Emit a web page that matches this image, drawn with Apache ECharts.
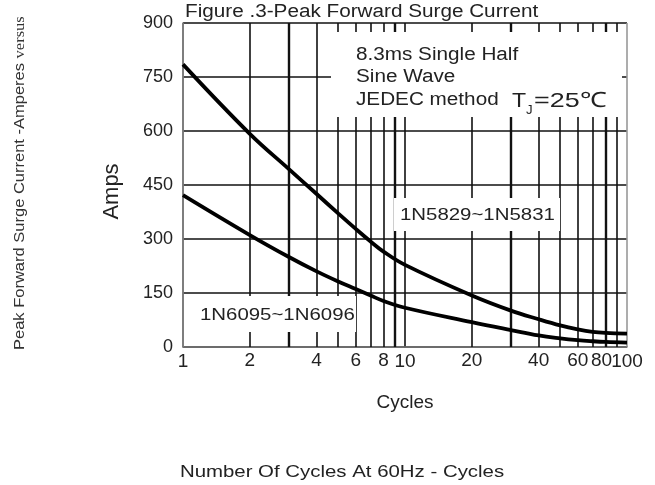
<!DOCTYPE html>
<html>
<head>
<meta charset="utf-8">
<script src="https://cdn.jsdelivr.net/npm/echarts@6/dist/echarts.min.js"></script>
<style>
html,body{margin:0;padding:0;background:#fff;}
#chart{width:655px;height:485px;}
</style>
</head>
<body>
<div id="chart"></div>
<script>
// ---- data ----
const cycles = [1, 2, 3, 4, 5, 6, 7, 8, 10, 20, 30, 40, 50, 60, 70, 80, 100];
const surge1N5829 = [785, 592, 494, 425, 371, 328, 293, 265, 228, 143, 101, 77, 60, 49, 42, 39, 37];
const surge1N6095 = [422, 311, 250, 210, 182, 161, 143, 128, 109, 69, 47, 32, 24, 19, 16, 14, 12];
const gridCycles = [2, 3, 4, 5, 6, 7, 8, 9, 20, 30, 40, 50, 60, 70, 80, 90];
const labeledCycles = [2, 4, 6, 8, 20, 40, 60, 80];
const heavyCycles = [3, 9, 30, 80];
const yMin = 0, yMax = 900, yStep = 150;
const xMin = 1, xMax = 100;

const FONT = '"Liberation Sans", Arial, sans-serif';
const chart = echarts.init(document.getElementById('chart'));

const gridMarks = gridCycles.map(c => ({
  xAxis: c,
  lineStyle: { width: heavyCycles.includes(c) ? 2.4 : 1.6, color: '#111', type: 'solid' },
  label: labeledCycles.includes(c)
    ? { show: true, position: 'start', distance: 4, formatter: String(c), fontSize: 19, color: '#222', fontFamily: FONT, offset: c === 80 ? [-4, 0] : [0, 0] }
    : { show: false }
}));

function txt(x, y, text, size, extra) {
  return Object.assign({
    type: 'text', z: 10, x: x, y: y, scaleX: 1.17,
    style: { text: text, font: size + 'px ' + FONT, fill: '#222', verticalAlign: 'middle', align: 'left' }
  }, extra || {});
}

chart.setOption({
  animation: false,
  backgroundColor: '#fff',
  grid: { left: 183, right: 28, top: 23, bottom: 138 },
  xAxis: {
    type: 'log', logBase: 10, min: xMin, max: xMax,
    name: 'Cycles', nameLocation: 'middle', nameGap: 46,
    nameTextStyle: { fontSize: 19, color: '#222', fontFamily: FONT },
    axisLine: { show: true, lineStyle: { color: '#777', width: 1.5 } },
    axisTick: { show: false },
    axisLabel: { fontSize: 19, color: '#222', fontFamily: FONT, margin: 5 },
    splitLine: { show: true, lineStyle: { color: ['#777', '#111', '#999'], width: 1.6 } }
  },
  yAxis: {
    type: 'value', min: yMin, max: yMax, interval: yStep,
    name: 'Amps', nameLocation: 'middle', nameGap: 60, nameRotate: 90,
    nameTextStyle: { fontSize: 22, color: '#222', fontFamily: FONT, padding: [0, 13, 0, 0] },
    axisLine: { show: true, lineStyle: { color: '#777', width: 1.5 } },
    axisTick: { show: false },
    axisLabel: { fontSize: 18, color: '#222', fontFamily: FONT, margin: 10 },
    splitLine: { show: true, lineStyle: { color: '#111', width: 1.6 } }
  },
  series: [
    {
      name: '1N5829~1N5831', type: 'line', smooth: 0.4, showSymbol: false,
      z: 5,
      lineStyle: { color: '#000', width: 3.8 },
      data: cycles.map((c, i) => [c, surge1N5829[i]]),
      markLine: {
        silent: true, symbol: ['none', 'none'], animation: false, z: 1,
        label: { show: false },
        data: gridMarks
      }
    },
    {
      name: '1N6095~1N6096', type: 'line', smooth: 0.4, showSymbol: false,
      z: 5,
      lineStyle: { color: '#000', width: 3.8 },
      data: cycles.map((c, i) => [c, surge1N6095[i]])
    }
  ],
  graphic: [
    // white boxes behind the annotations
    { type: 'rect', z: 3, shape: { x: 331, y: 32, width: 291, height: 85 }, style: { fill: '#fff' } },
    { type: 'rect', z: 3, shape: { x: 394, y: 198, width: 166, height: 33 }, style: { fill: '#fff' } },
    { type: 'rect', z: 3, shape: { x: 192, y: 296, width: 164, height: 36 }, style: { fill: '#fff' } },
    txt(185, 12, 'Figure .3-Peak Forward Surge Current', 18, { scaleX: 1.15 }),
    txt(356, 55, '8.3ms Single Half', 18, { scaleX: 1.15 }),
    txt(356, 77.5, 'Sine Wave', 18, { scaleX: 1.15 }),
    txt(356, 100, 'JEDEC method', 18, { scaleX: 1.15 }),
    txt(512, 101, 'T', 21, { scaleX: 1.1 }),
    txt(526, 111, 'J', 12, { scaleX: 1.1 }),
    txt(534, 101, '=25℃', 21, { scaleX: 1.28 }),
    txt(400, 215, '1N5829~1N5831', 17, { scaleX: 1.2 }),
    txt(200, 315, '1N6095~1N6096', 17, { scaleX: 1.2 }),
    txt(342, 472, 'Number Of Cycles At 60Hz - Cycles', 17, { scaleX: 1.2, style: { text: 'Number Of Cycles At 60Hz - Cycles', font: '17px ' + FONT, fill: '#222', verticalAlign: 'middle', align: 'center' } }),
    {
      type: 'text', z: 10, x: 20, y: 350, rotation: Math.PI / 2, scaleX: 1.1,
      style: {
        text: 'Peak Forward Surge Current -Amperes {s|versus}',
        font: '15px ' + FONT, fill: '#333', align: 'left', verticalAlign: 'middle',
        rich: { s: { font: '15px "Liberation Serif", serif', fill: '#333' } }
      }
    }
  ]
});
</script>
</body>
</html>
